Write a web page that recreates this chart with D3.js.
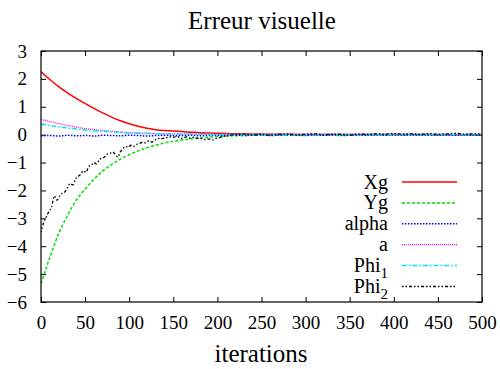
<!DOCTYPE html>
<html>
<head>
<meta charset="utf-8">
<script src="https://cdn.jsdelivr.net/npm/d3@7"></script>
<style>
  html, body { margin: 0; padding: 0; background: #fff; }
  svg { display: block; }
  text { fill: #000; }
</style>
</head>
<body>
<svg id="chart" width="500" height="369"></svg>
<script>
// ---------- data ----------
const iterGrid = [0,10,20,30,40,50,60,70,80,90,100,110,120,130,140,150,160,170,180,190,200,
  210,220,230,240,250,260,270,280,290,300,310,320,330,340,350,360,370,380,390,400,
  410,420,430,440,450,460,470,480,490,500];

const valXg = [2.26,1.98,1.72,1.50,1.30,1.12,0.94,0.78,0.63,0.50,0.39,0.30,0.23,0.18,0.15,0.13,0.11,0.09,0.07,0.06,0.05,
  0.04,0.035,0.03,0.025,0.02,0.018,0.015,0.012,0.01,0.01,0.008,0.007,0.006,0.005,0.005,0.004,0.004,0.003,0.003,0.003,
  0.002,0.002,0.002,0.002,0.001,0.001,0.001,0.001,0.001,0.001];

const valYg = [-5.35,-4.40,-3.55,-2.90,-2.35,-1.95,-1.60,-1.30,-1.07,-0.88,-0.72,-0.58,-0.47,-0.38,-0.30,-0.24,-0.19,-0.15,-0.12,-0.09,-0.07,
  -0.05,-0.04,-0.03,-0.02,-0.015,-0.012,-0.01,-0.008,-0.006,-0.005,-0.004,-0.003,-0.003,-0.002,-0.002,-0.002,-0.001,-0.001,-0.001,-0.001,
  0,0,0,0,0,0,0,0,0,0];

const valAlpha = [-0.04,-0.03,-0.05,-0.02,-0.04,-0.03,-0.05,-0.02,-0.03,-0.04,-0.02,-0.03,-0.05,-0.03,-0.02,-0.04,-0.03,-0.02,-0.04,-0.03,-0.02,
  -0.03,-0.01,-0.03,-0.02,-0.01,-0.03,-0.02,-0.01,-0.02,-0.03,-0.01,-0.02,-0.01,-0.03,-0.02,-0.01,-0.02,-0.01,-0.02,-0.01,
  -0.02,-0.01,-0.02,-0.01,-0.02,-0.01,-0.02,-0.01,-0.02,-0.01];

const valA = [0.55,0.47,0.40,0.33,0.27,0.22,0.18,0.15,0.12,0.09,0.07,0.06,0.05,0.04,0.03,0.03,0.02,0.02,0.02,0.01,0.01,
  0.01,0.01,0.01,0.01,0.01,0.01,0.01,0.01,0.01,0.01,0.01,0.01,0.01,0.01,0.01,0.01,0.01,0.01,0.01,0.01,
  0.01,0.01,0.01,0.01,0.01,0.01,0.01,0.01,0.01,0.01];

const valPhi1 = [0.38,0.33,0.28,0.24,0.20,0.17,0.14,0.12,0.10,0.08,0.06,0.05,0.04,0.035,0.03,0.025,0.02,0.02,0.015,0.01,0.01,
  0.01,0.01,0.01,0.01,0.01,0.01,0.01,0.01,0.01,0.01,0.01,0.01,0.01,0.01,0.01,0.01,0.01,0.01,0.01,0.01,
  0.01,0.01,0.01,0.01,0.01,0.01,0.01,0.01,0.01,0.01];

const iterPhi2 = [0,3,6,9,12,15,18,21,24,27,30,33,36,39,42,45,48,51,54,57,60,63,66,69,72,75,78,81,84,87,90,
  93,96,99,102,105,108,111,114,117,120,123,126,129,132,135,138,141,144,147,150,153,156,159,162,165,168,171,174,177,180,
  183,186,189,192,195,198,201,204,207,210,213,216,219,222,
  230,240,250,260,270,280,290,300,310,320,330,340,350,360,370,380,390,400,410,420,430,440,450,460,470,480,490,500];
const valPhi2 = [-3.5,-3.15,-2.95,-2.75,-2.6,-2.2,-2.35,-2.2,-2.1,-2.05,-1.9,-1.75,-1.8,-1.6,-1.5,-1.42,-1.3,-1.35,-1.15,-1.1,-1.0,-1.05,-0.9,-0.85,-0.8,-0.7,-0.68,-0.62,-0.7,-0.8,-0.62,
  -0.5,-0.42,-0.45,-0.38,-0.42,-0.35,-0.33,-0.28,-0.3,-0.25,-0.22,-0.27,-0.2,-0.15,-0.12,-0.14,-0.1,-0.11,-0.08,-0.1,-0.07,-0.09,-0.13,-0.1,-0.08,-0.12,-0.1,-0.09,-0.13,-0.12,
  -0.16,-0.18,-0.15,-0.17,-0.19,-0.14,-0.12,-0.09,-0.06,-0.05,-0.03,-0.01,0.01,0,
  0.02,-0.01,0.01,-0.02,0.01,0.02,-0.01,0.01,0.03,-0.01,0.02,0.01,-0.02,0.02,0.01,0.03,0.02,0.04,0.02,0.03,0.01,0.04,0.02,0.03,0.05,0.02,0.03,0.02];

const xTicks = [0,50,100,150,200,250,300,350,400,450,500];
const yTicks = [-6,-5,-4,-3,-2,-1,0,1,2,3];

const series = [
  { name: "Xg",    sub: null, x: iterGrid, y: valXg,    color: "#ff0000", dash: null,        width: 1.5 },
  { name: "Yg",    sub: null, x: iterGrid, y: valYg,    color: "#00dd00", dash: "3,2",       width: 1.5 },
  { name: "alpha", sub: null, x: iterGrid, y: valAlpha, color: "#0000ff", dash: "1.5,1.5",   width: 1.5 },
  { name: "a",     sub: null, x: iterGrid, y: valA,     color: "#ff00ff", dash: "1,1",       width: 1.3 },
  { name: "Phi",   sub: "1",  x: iterGrid, y: valPhi1,  color: "#00e5ee", dash: "5,2,1.5,2", width: 1.5 },
  { name: "Phi",   sub: "2",  x: iterPhi2, y: valPhi2,  color: "#000000", dash: "1.5,2,1.5,2,3,2", width: 1.3 }
];

// ---------- layout ----------
const FONT = "'Liberation Serif', 'Times New Roman', Times, 'Nimbus Roman', 'DejaVu Serif', 'Noto Serif', serif";
const L = 41, R = 482, T = 51, B = 302;
const svg = d3.select("#chart").attr("font-family", FONT);
const x = d3.scaleLinear().domain([0, 500]).range([L, R]);
const y = d3.scaleLinear().domain([-6, 3]).range([B, T]);

const tickFont = 19;

// axes
const gx = svg.append("g").attr("transform", `translate(0,${B})`)
  .call(d3.axisBottom(x).tickValues(xTicks).tickSizeInner(-5).tickSizeOuter(0).tickPadding(14));
const gy = svg.append("g").attr("transform", `translate(${L},0)`)
  .call(d3.axisLeft(y).tickValues(yTicks).tickSizeInner(-5).tickSizeOuter(0).tickPadding(14));
const gxt = svg.append("g").attr("transform", `translate(0,${T})`)
  .call(d3.axisTop(x).tickValues(xTicks).tickSizeInner(-5).tickSizeOuter(0).tickFormat(""));
const gyr = svg.append("g").attr("transform", `translate(${R},0)`)
  .call(d3.axisRight(y).tickValues(yTicks).tickSizeInner(-5).tickSizeOuter(0).tickFormat(""));

[gx, gy, gxt, gyr].forEach(g => {
  g.attr("font-family", FONT).attr("font-size", tickFont);
  g.select(".domain").remove();
  g.selectAll(".tick line").attr("stroke", "#000").attr("stroke-width", 1);
  g.selectAll(".tick text").attr("font-family", FONT).attr("font-size", tickFont).attr("fill", "#000");
});

// clip
svg.append("clipPath").attr("id", "clip").append("rect")
  .attr("x", L).attr("y", T).attr("width", R - L).attr("height", B - T);

// lines
const line = d3.line().x(d => x(d[0])).y(d => y(d[1])).curve(d3.curveMonotoneX);
const gl = svg.append("g").attr("clip-path", "url(#clip)");
series.forEach(s => {
  const pts = s.x.map((v, i) => [v, s.y[i]]);
  gl.append("path").datum(pts)
    .attr("d", line)
    .attr("fill", "none")
    .attr("stroke", s.color)
    .attr("stroke-width", s.width)
    .attr("stroke-dasharray", s.dash);
});

// frame
svg.append("rect").attr("x", L).attr("y", T).attr("width", R - L).attr("height", B - T)
  .attr("fill", "none").attr("stroke", "#000").attr("stroke-width", 1.2);

// legend
const legY0 = 182, legDY = 20.9;
const leg = svg.append("g").attr("font-family", FONT);
series.forEach((s, i) => {
  const cy = legY0 + i * legDY;
  const t = leg.append("text").attr("x", 388).attr("y", cy + 6.5)
    .attr("text-anchor", "end").attr("font-size", 20);
  t.append("tspan").text(s.name);
  if (s.sub) t.append("tspan").attr("dy", 6).attr("font-size", 15).text(s.sub);
  leg.append("line").attr("x1", 402).attr("x2", 457).attr("y1", cy).attr("y2", cy)
    .attr("stroke", s.color).attr("stroke-width", s.width).attr("stroke-dasharray", s.dash);
});

// titles
svg.append("text").attr("x", 262).attr("y", 29).attr("text-anchor", "middle")
  .attr("font-size", 25).text("Erreur visuelle");
svg.append("text").attr("x", 261).attr("y", 362).attr("text-anchor", "middle")
  .attr("font-size", 25).text("iterations");
</script>
</body>
</html>
